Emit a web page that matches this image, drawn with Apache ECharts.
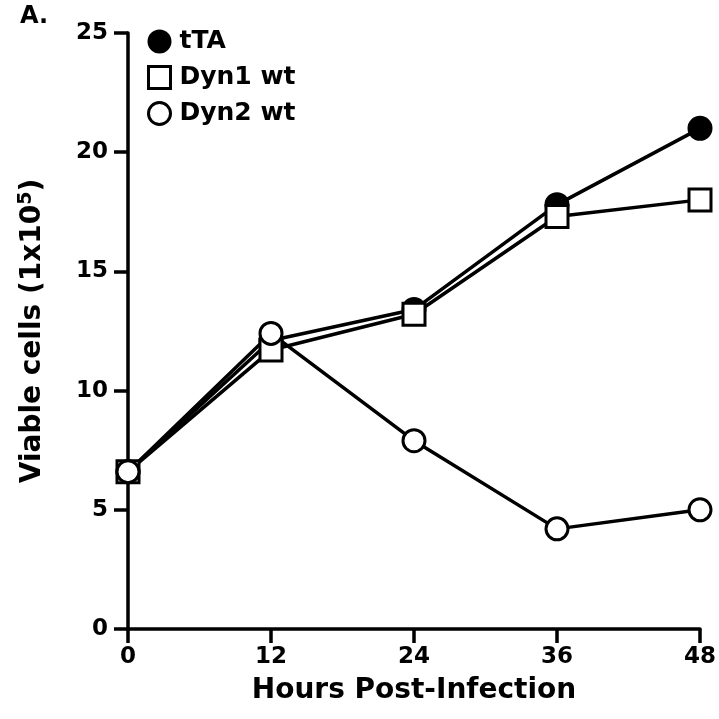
<!DOCTYPE html>
<html><head><meta charset="utf-8">
<script src="https://cdn.jsdelivr.net/npm/echarts@6/dist/echarts.min.js"></script>
<style>html,body{margin:0;padding:0;background:#fff}#c{width:719px;height:719px}</style>
</head><body><div id="c"></div>
<script>
var hours = [0, 12, 24, 36, 48];
var tTA = [6.6, 12.1, 13.4, 17.8, 21.0];
var dyn1 = [6.6, 11.7, 13.2, 17.3, 18.0];
var dyn2 = [6.6, 12.4, 7.9, 4.2, 5.0];
var seriesNames = ['tTA', 'Dyn1 wt', 'Dyn2 wt'];
var yTicks = [0, 5, 10, 15, 20, 25];

var F = '"DejaVu Sans", Arial, sans-serif';
function pts(v){ return hours.map(function(h,i){ return [h, v[i]]; }); }
var chart = echarts.init(document.getElementById('c'));
var lineStyle = {color:'#000', width:3.5};
chart.setOption({
  animation:false,
  backgroundColor:'#fff',
  title:{text:'A.', left:15, top:0, textStyle:{fontFamily:F, fontWeight:'bold', fontSize:24, color:'#000'}},
  grid:{left:128, right:19, top:33, bottom:90},
  legend:{
    orient:'vertical', left:142, top:24, itemGap:11, itemWidth:22, itemHeight:22,
    textStyle:{fontFamily:F, fontWeight:'bold', fontSize:25, lineHeight:22, color:'#000', padding:[0,0,0,4]},
    data:[
      {name:seriesNames[0], icon:'circle', itemStyle:{color:'#000', borderColor:'#000', borderWidth:2}},
      {name:seriesNames[1], icon:'rect', itemStyle:{color:'#fff', borderColor:'#000', borderWidth:3}},
      {name:seriesNames[2], icon:'circle', itemStyle:{color:'#fff', borderColor:'#000', borderWidth:3}}
    ]
  },
  xAxis:{
    type:'value', min:0, max:48, interval:12,
    name:'Hours Post-Infection', nameLocation:'middle', nameGap:48,
    nameTextStyle:{fontFamily:F, fontWeight:'bold', fontSize:28, color:'#000'},
    axisLine:{lineStyle:{color:'#000', width:3.5}},
    axisTick:{length:14, lineStyle:{color:'#000', width:3.5}},
    axisLabel:{fontFamily:F, fontWeight:'bold', fontSize:23, color:'#000', margin:17},
    splitLine:{show:false}
  },
  yAxis:{
    type:'value', min:0, max:25, interval:5,
    name:'Viable cells (1x10{sup|5})', nameLocation:'middle', nameGap:80, nameRotate:90,
    nameTextStyle:{fontFamily:F, fontWeight:'bold', fontSize:28, color:'#000',
      rich:{sup:{fontFamily:F, fontWeight:'bold', fontSize:19, color:'#000', verticalAlign:'top', padding:[0,0,12,0]}}},
    axisLine:{show:true, lineStyle:{color:'#000', width:3.5}},
    axisTick:{show:true, length:14, lineStyle:{color:'#000', width:3.5}},
    axisLabel:{fontFamily:F, fontWeight:'bold', fontSize:23, color:'#000', margin:20,
      formatter:function(v){ return yTicks.indexOf(v) >= 0 ? String(v) : ''; }},
    splitLine:{show:false}
  },
  series:[
    {name:seriesNames[0], type:'line', data:pts(tTA), symbol:'circle', symbolSize:23,
      lineStyle:lineStyle, itemStyle:{color:'#000', borderColor:'#000', borderWidth:2}},
    {name:seriesNames[1], type:'line', data:pts(dyn1), symbol:'rect', symbolSize:22,
      lineStyle:lineStyle, itemStyle:{color:'#fff', borderColor:'#000', borderWidth:3}},
    {name:seriesNames[2], type:'line', data:pts(dyn2), symbol:'circle', symbolSize:22,
      lineStyle:lineStyle, itemStyle:{color:'#fff', borderColor:'#000', borderWidth:3}}
  ]
});
</script></body></html>
